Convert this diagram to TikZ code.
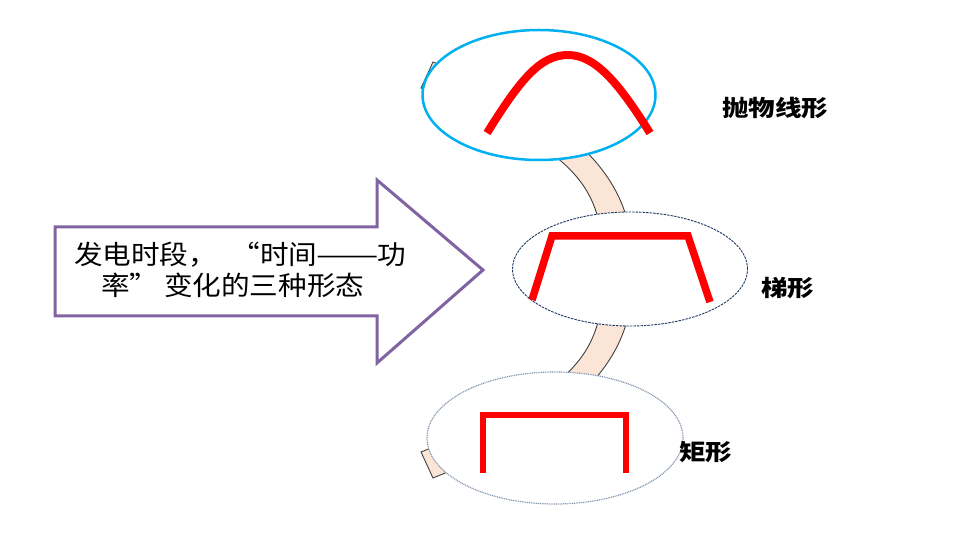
\documentclass[tikz,border=0pt]{standalone}
\usepackage{fontspec}
\usetikzlibrary{shapes.geometric}
\newfontfamily\cjk{Noto Sans CJK SC}
\definecolor{skyE}{RGB}{0,176,240}
\definecolor{purpA}{RGB}{128,100,162}
\definecolor{bandF}{RGB}{251,229,214}
\definecolor{bandL}{RGB}{64,64,64}
\definecolor{navyE}{RGB}{32,56,100}
\definecolor{greyE}{RGB}{132,151,176}
\definecolor{redL}{RGB}{255,0,0}
\tikzset{
  ovalbox/.style={ellipse, fill=white, inner sep=0pt},
  redshape/.style={draw=redL, line width=7.5pt, line join=miter},
  lbl/.style={anchor=west, inner sep=0pt, font=\cjk\bfseries\fontsize{22.5}{26}\selectfont},
  arrowtext/.style={align=center, inner sep=0pt, font=\cjk\fontsize{26.5}{31}\selectfont}
}
\begin{document}
\begin{tikzpicture}[x=1pt,y=-1pt]
\useasboundingbox (0,0) rectangle (953,545);
% curved band behind the ellipses
\path[fill=bandF, draw=bandL, line width=0.9pt]
  (433,62) .. controls (581,122) and (635,180) .. (633,270)
  .. controls (635,360) and (581,418) .. (433,478)
  -- (421,452) .. controls (569,392) and (605,360) .. (603,270)
  .. controls (605,180) and (569,148) .. (421,88) -- cycle;
% ellipses
\node[ovalbox, draw=skyE, line width=2.5pt, minimum width=233, minimum height=130] (top) at (539,95) {};
\node[ovalbox, draw=navyE, line width=0.9pt, dash pattern=on 2.5pt off 1pt, minimum width=235, minimum height=114] (mid) at (630,269) {};
\node[ovalbox, draw=greyE, line width=1.2pt, dash pattern=on 1pt off 0.8pt, minimum width=256, minimum height=132] (bot) at (555,438) {};
% red curves
\draw[redshape, line width=8pt] (487,133) .. controls (520,80) and (540,55) .. (568,55)
  .. controls (596,55) and (620,85) .. (650,133);
\draw[redshape] (532,300) -- (552,236) -- (688,236) -- (710,302);
\draw[redshape, line width=6.5pt] (483,473) -- (483,415) -- (626,415) -- (626,473);
% labels
\node[lbl] (l1) at (722,108) {\scalebox{1.18}[1]{抛物线形}};
\node[lbl] (l2) at (761,288) {\scalebox{1.18}[1]{梯形}};
\node[lbl] (l3) at (679,452) {\scalebox{1.18}[1]{矩形}};
% big arrow
\draw[purpA, line width=3pt, fill=white, line join=miter]
  (55,227) -- (377,227) -- (377,180) -- (483,270) -- (377,363) -- (377,316) -- (55,316) -- cycle;
\node[arrowtext] (txt) at (240,270) {\scalebox{1.08}[1]{发电时段，\hspace{0.5em}\makebox[1em][r]{“}时间\makebox[2.1em]{\scalebox{1.3}[1]{——}}功}\\
\scalebox{1.08}[1]{率\makebox[1em][l]{”}\hspace{0.2em}变化的三种形态\hspace{0.5em}}};
\end{tikzpicture}
\end{document}
